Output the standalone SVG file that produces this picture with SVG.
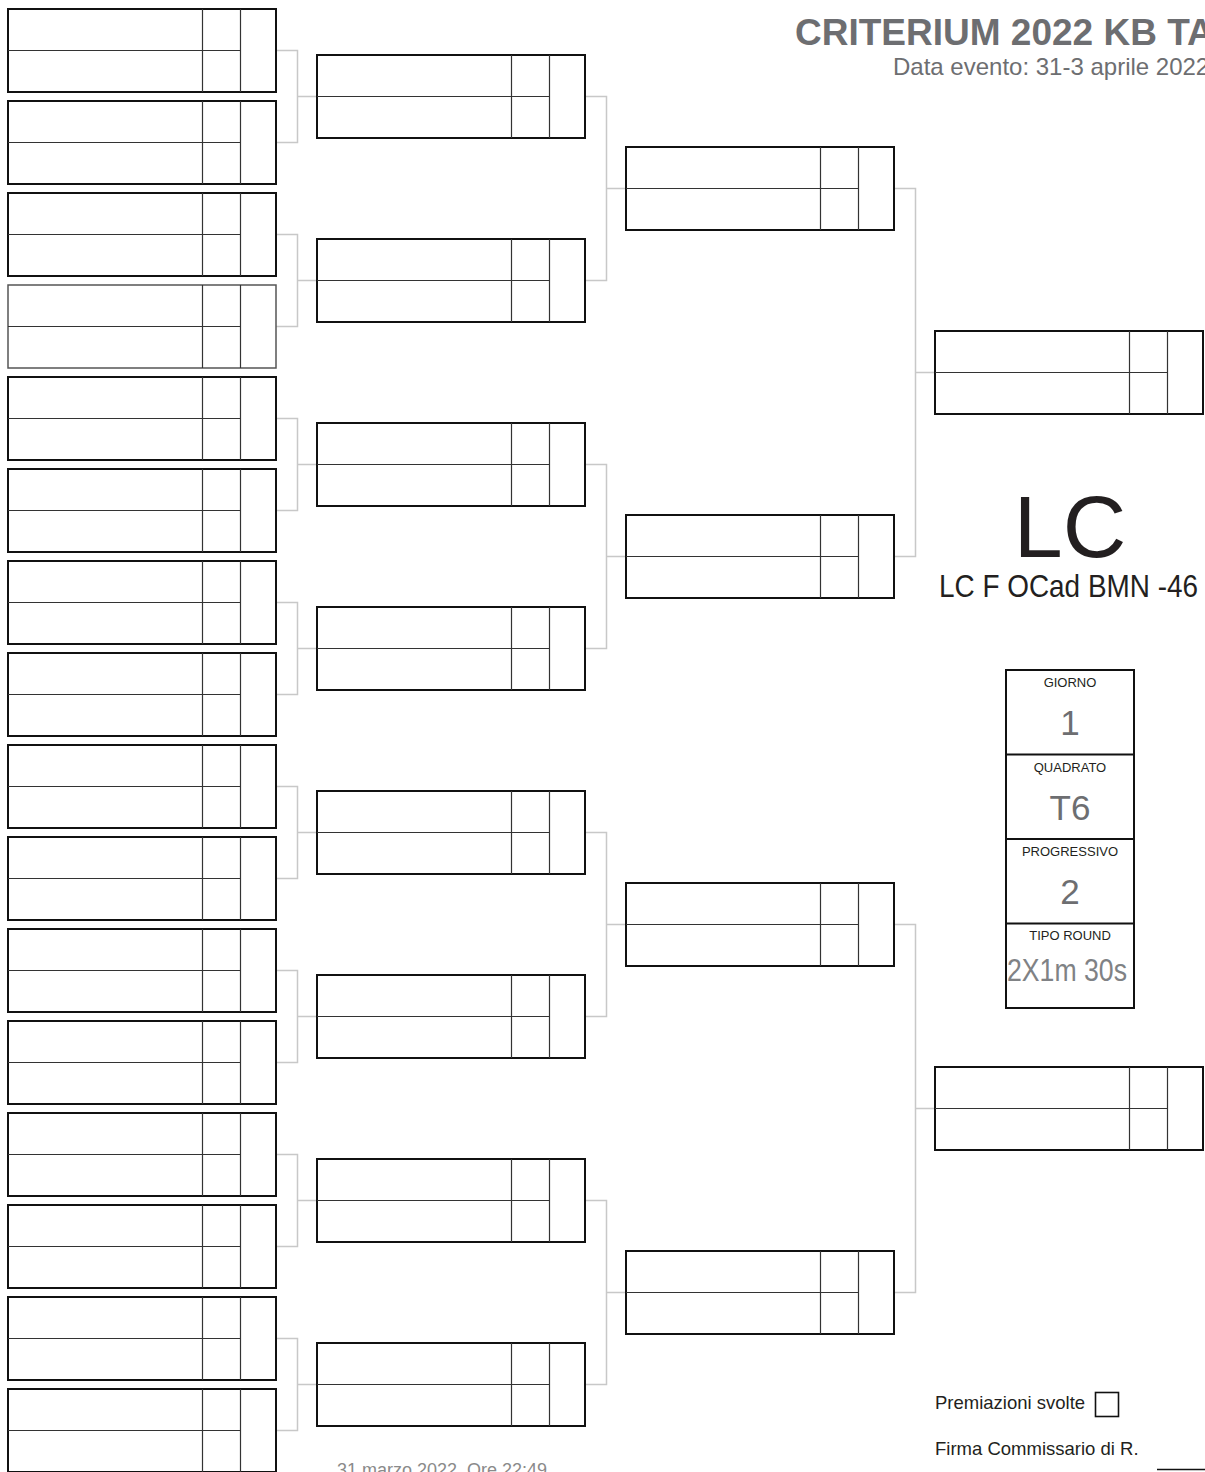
<svg xmlns="http://www.w3.org/2000/svg" xmlns:xlink="http://www.w3.org/1999/xlink" width="1205" height="1472" viewBox="0 0 1205 1472">
<style>
.frame{fill:#fff;stroke:#111;stroke-width:2}
.frame-thin{fill:#fff;stroke:#555;stroke-width:1.5}
.in{stroke:#333;stroke-width:1.2;fill:none}
.conn{stroke:#c8c8c8;stroke-width:1.5;fill:none}
.sans{font-family:"Liberation Sans",Arial,sans-serif}
.lbl{font-size:13px;fill:#231f20;text-anchor:middle}
.val{font-size:35px;fill:#6d6e71;text-anchor:middle}
</style>
<defs>
<g id="match">
<rect class="frame" x="0" y="0" width="268" height="83"/>
<path class="in" d="M0 41.5H232.5M194.5 0V83M232.5 0V83"/>
</g>
<g id="match-thin">
<rect class="frame-thin" x="0" y="0" width="268" height="83"/>
<path class="in" d="M0 41.5H232.5M194.5 0V83M232.5 0V83"/>
</g>
</defs>
<rect width="1205" height="1472" fill="#fff"/>

<g id="connectors">
<path class="conn" d="M276 50.5H297.5V142.5H276M297.5 96.5H317"/>
<path class="conn" d="M276 234.5H297.5V326.5H276M297.5 280.5H317"/>
<path class="conn" d="M276 418.5H297.5V510.5H276M297.5 464.5H317"/>
<path class="conn" d="M276 602.5H297.5V694.5H276M297.5 648.5H317"/>
<path class="conn" d="M276 786.5H297.5V878.5H276M297.5 832.5H317"/>
<path class="conn" d="M276 970.5H297.5V1062.5H276M297.5 1016.5H317"/>
<path class="conn" d="M276 1154.5H297.5V1246.5H276M297.5 1200.5H317"/>
<path class="conn" d="M276 1338.5H297.5V1430.5H276M297.5 1384.5H317"/>
<path class="conn" d="M585 96.5H606.5V280.5H585M606.5 188.5H626"/>
<path class="conn" d="M585 464.5H606.5V648.5H585M606.5 556.5H626"/>
<path class="conn" d="M585 832.5H606.5V1016.5H585M606.5 924.5H626"/>
<path class="conn" d="M585 1200.5H606.5V1384.5H585M606.5 1292.5H626"/>
<path class="conn" d="M894 188.5H915.5V556.5H894M915.5 372.5H935"/>
<path class="conn" d="M894 924.5H915.5V1292.5H894M915.5 1108.5H935"/>
</g>

<g id="r1m1" transform="translate(8 9)"><use href="#match"/></g>
<g id="r1m2" transform="translate(8 101)"><use href="#match"/></g>
<g id="r1m3" transform="translate(8 193)"><use href="#match"/></g>
<g id="r1m4" transform="translate(8 285)"><use href="#match-thin"/></g>
<g id="r1m5" transform="translate(8 377)"><use href="#match"/></g>
<g id="r1m6" transform="translate(8 469)"><use href="#match"/></g>
<g id="r1m7" transform="translate(8 561)"><use href="#match"/></g>
<g id="r1m8" transform="translate(8 653)"><use href="#match"/></g>
<g id="r1m9" transform="translate(8 745)"><use href="#match"/></g>
<g id="r1m10" transform="translate(8 837)"><use href="#match"/></g>
<g id="r1m11" transform="translate(8 929)"><use href="#match"/></g>
<g id="r1m12" transform="translate(8 1021)"><use href="#match"/></g>
<g id="r1m13" transform="translate(8 1113)"><use href="#match"/></g>
<g id="r1m14" transform="translate(8 1205)"><use href="#match"/></g>
<g id="r1m15" transform="translate(8 1297)"><use href="#match"/></g>
<g id="r1m16" transform="translate(8 1389)"><use href="#match"/></g>

<g id="r2m1" transform="translate(317 55)"><use href="#match"/></g>
<g id="r2m2" transform="translate(317 239)"><use href="#match"/></g>
<g id="r2m3" transform="translate(317 423)"><use href="#match"/></g>
<g id="r2m4" transform="translate(317 607)"><use href="#match"/></g>
<g id="r2m5" transform="translate(317 791)"><use href="#match"/></g>
<g id="r2m6" transform="translate(317 975)"><use href="#match"/></g>
<g id="r2m7" transform="translate(317 1159)"><use href="#match"/></g>
<g id="r2m8" transform="translate(317 1343)"><use href="#match"/></g>

<g id="r3m1" transform="translate(626 147)"><use href="#match"/></g>
<g id="r3m2" transform="translate(626 515)"><use href="#match"/></g>
<g id="r3m3" transform="translate(626 883)"><use href="#match"/></g>
<g id="r3m4" transform="translate(626 1251)"><use href="#match"/></g>

<g id="r4m1" transform="translate(935 331)"><use href="#match"/></g>
<g id="r4m2" transform="translate(935 1067)"><use href="#match"/></g>

<g id="title">
<text class="sans" x="795" y="45" font-size="37" font-weight="bold" fill="#6d6e71">CRITERIUM 2022 KB TA</text>
<text class="sans" x="893" y="75" font-size="24" fill="#6d6e71">Data evento: 31-3 aprile 2022</text>
</g>

<g id="category">
<text class="sans" x="1070" y="557" font-size="88" fill="#231f20" text-anchor="middle">LC</text>
<text class="sans" x="939" y="597" font-size="32" fill="#231f20" textLength="259" lengthAdjust="spacingAndGlyphs">LC F OCad BMN -46</text>
</g>

<g id="info">
<rect class="frame" x="1006" y="670" width="128" height="338" fill="none"/>
<path stroke="#111" stroke-width="2" d="M1006 754.5H1134M1006 839H1134M1006 923.5H1134"/>
<text class="sans lbl" x="1070" y="687">GIORNO</text>
<text class="sans val" x="1070" y="735">1</text>
<text class="sans lbl" x="1070" y="771.5">QUADRATO</text>
<text class="sans val" x="1070" y="820">T6</text>
<text class="sans lbl" x="1070" y="856">PROGRESSIVO</text>
<text class="sans val" x="1070" y="904">2</text>
<text class="sans lbl" x="1070" y="940">TIPO ROUND</text>
<text class="sans" x="1007" y="981" font-size="32" fill="#808285" textLength="120" lengthAdjust="spacingAndGlyphs">2X1m 30s</text>
</g>

<g id="premiazioni">
<text class="sans" x="935" y="1409" font-size="18.5" fill="#231f20">Premiazioni svolte</text>
<rect x="1095.5" y="1392.5" width="23" height="24" fill="#fff" stroke="#111" stroke-width="1.6"/>
</g>

<g id="firma">
<text class="sans" x="935" y="1455" font-size="18.5" fill="#231f20">Firma Commissario di R.</text>
<path d="M1157 1469.5H1205" stroke="#111" stroke-width="1.5"/>
</g>

<g id="footer">
<text class="sans" x="337" y="1476" font-size="18" fill="#8a8a8a" xml:space="preserve">31 marzo 2022  Ore 22:49</text>
</g>
</svg>
